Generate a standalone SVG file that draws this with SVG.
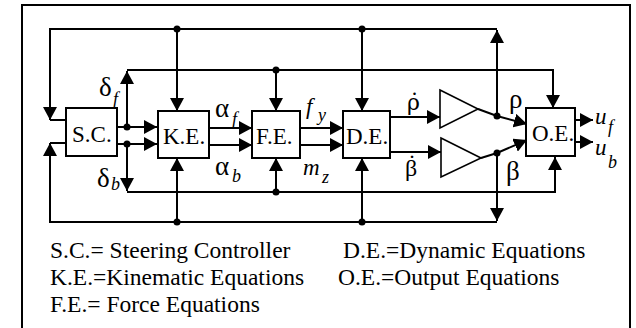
<svg xmlns="http://www.w3.org/2000/svg" width="636" height="328" viewBox="0 0 636 328">
<defs>
<marker id="ah" markerUnits="userSpaceOnUse" markerWidth="14" markerHeight="14" refX="13" refY="7" orient="auto">
<path d="M0,0 L13,7 L0,14 z" fill="#000"/>
</marker>
<style>
.box{fill:#fff;stroke:#000;stroke-width:2}
.amp{fill:#fff;stroke:#000;stroke-width:1.6}
.ln{fill:none;stroke:#000;stroke-width:2}
.ar{fill:none;stroke:#000;stroke-width:2;marker-end:url(#ah)}
.dot{fill:#000}
.lbl{font-size:23px}
.gr{font-size:27px}
.gd{font-size:22px;font-family:'DejaVu Serif',serif}
.it{font-style:italic}
.sub{font-size:18px;font-style:italic}
.leg{font-size:23.5px}
</style>
</defs>
<rect x="22" y="5" width="608" height="325" fill="#fff" stroke="#000" stroke-width="2"/>

<g id="connectors">
<path class="ar" d="M497,116 V30"/>
<path class="ar" d="M497,29 H50 V120"/>
<path class="ln" d="M50,120 H66"/>
<path class="ar" d="M177,29 V111"/>
<path class="ar" d="M362,29 V111"/>
<path class="ar" d="M127,127 V71"/>
<path class="ar" d="M127,70 H553 V108"/>
<path class="ar" d="M276,70 V111"/>
<path class="ar" d="M127,144 V191"/>
<path class="ar" d="M127,192 H555 V157"/>
<path class="ar" d="M276,192 V158"/>
<path class="ar" d="M497,153 V221"/>
<path class="ar" d="M497,222 H50 V143"/>
<path class="ln" d="M50,143 H66"/>
<path class="ar" d="M177,222 V158"/>
<path class="ar" d="M362,222 V158"/>
<path class="ar" d="M117,127 H157"/>
<path class="ar" d="M117,144 H157"/>
<path class="ar" d="M209,128 H252"/>
<path class="ar" d="M209,145 H252"/>
<path class="ar" d="M300,128 H343"/>
<path class="ar" d="M300,145 H343"/>
<path class="ar" d="M390,117 H440"/>
<path class="ar" d="M390,152 H441"/>
<path class="ar" d="M478,109 L497,116 L527,124"/>
<path class="ar" d="M481,158 L497,153 L527,140"/>
<path class="ar" d="M575,120 H593"/>
<path class="ar" d="M575,142 H593"/>
<circle class="dot" cx="177" cy="29" r="3.5"/>
<circle class="dot" cx="362" cy="29" r="3.5"/>
<circle class="dot" cx="276" cy="70" r="3.5"/>
<circle class="dot" cx="127" cy="127" r="3.5"/>
<circle class="dot" cx="127" cy="144" r="3.5"/>
<circle class="dot" cx="276" cy="192" r="3.5"/>
<circle class="dot" cx="177" cy="222" r="3.5"/>
<circle class="dot" cx="362" cy="222" r="3.5"/>
<circle class="dot" cx="497" cy="116" r="3.5"/>
<circle class="dot" cx="497" cy="153" r="3.5"/>
</g>

<g font-family="'Liberation Serif', 'Times New Roman', 'DejaVu Serif', serif" fill="#000">
<g id="sc"><rect class="box" x="66" y="108" width="51" height="48"/><text class="lbl" x="72" y="142">S.C.</text></g>
<g id="ke"><rect class="box" x="158" y="111" width="51" height="47"/><text class="lbl" x="163" y="144">K.E.</text></g>
<g id="fe"><rect class="box" x="252" y="111" width="48" height="47"/><text class="lbl" x="256" y="144">F.E.</text></g>
<g id="de"><rect class="box" x="343" y="111" width="47" height="47"/><text class="lbl" x="346" y="144">D.E.</text></g>
<g id="oe"><rect class="box" x="526" y="108" width="49" height="48"/><text class="lbl" x="532" y="141">O.E.</text></g>
<g id="amp1"><polygon class="amp" points="440,90 478,109 440,128"/></g>
<g id="amp2"><polygon class="amp" points="441,138 481,158 441,177"/></g>

<g id="labels">
<text class="gr" x="99" y="96">δ<tspan class="sub" x="113" y="105">f</tspan></text>
<text class="gr" x="97" y="187">δ<tspan class="sub" x="111" y="190">b</tspan></text>
<text class="gr" x="215" y="117">α<tspan class="sub" x="232" y="125">f</tspan></text>
<text class="gr" x="215" y="175">α<tspan class="sub" x="232" y="182">b</tspan></text>
<text class="lbl it" x="306" y="114">f<tspan class="sub" x="318" y="121">y</tspan></text>
<text class="lbl it" x="303" y="175">m<tspan class="sub" x="322" y="183">z</tspan></text>
<text class="gd" x="407" y="110">ρ̇</text>
<text style="font-size:24px" x="405" y="176">β<tspan x="408" y="171">˙</tspan></text>
<text class="gr" x="509" y="108">ρ</text>
<text class="gr" x="506" y="180">β</text>
<text class="lbl it" x="595" y="124">u<tspan class="sub" x="608" y="133">f</tspan></text>
<text class="lbl it" x="595" y="155">u<tspan class="sub" x="608" y="168">b</tspan></text>
</g>

<g id="legend">
<text class="leg" x="50" y="258">S.C.= Steering Controller</text>
<text class="leg" x="50" y="285">K.E.=Kinematic Equations</text>
<text class="leg" x="50" y="312">F.E.= Force Equations</text>
<text class="leg" x="343" y="258">D.E.=Dynamic Equations</text>
<text class="leg" x="338" y="285">O.E.=Output Equations</text>
</g>
</g>
</svg>
